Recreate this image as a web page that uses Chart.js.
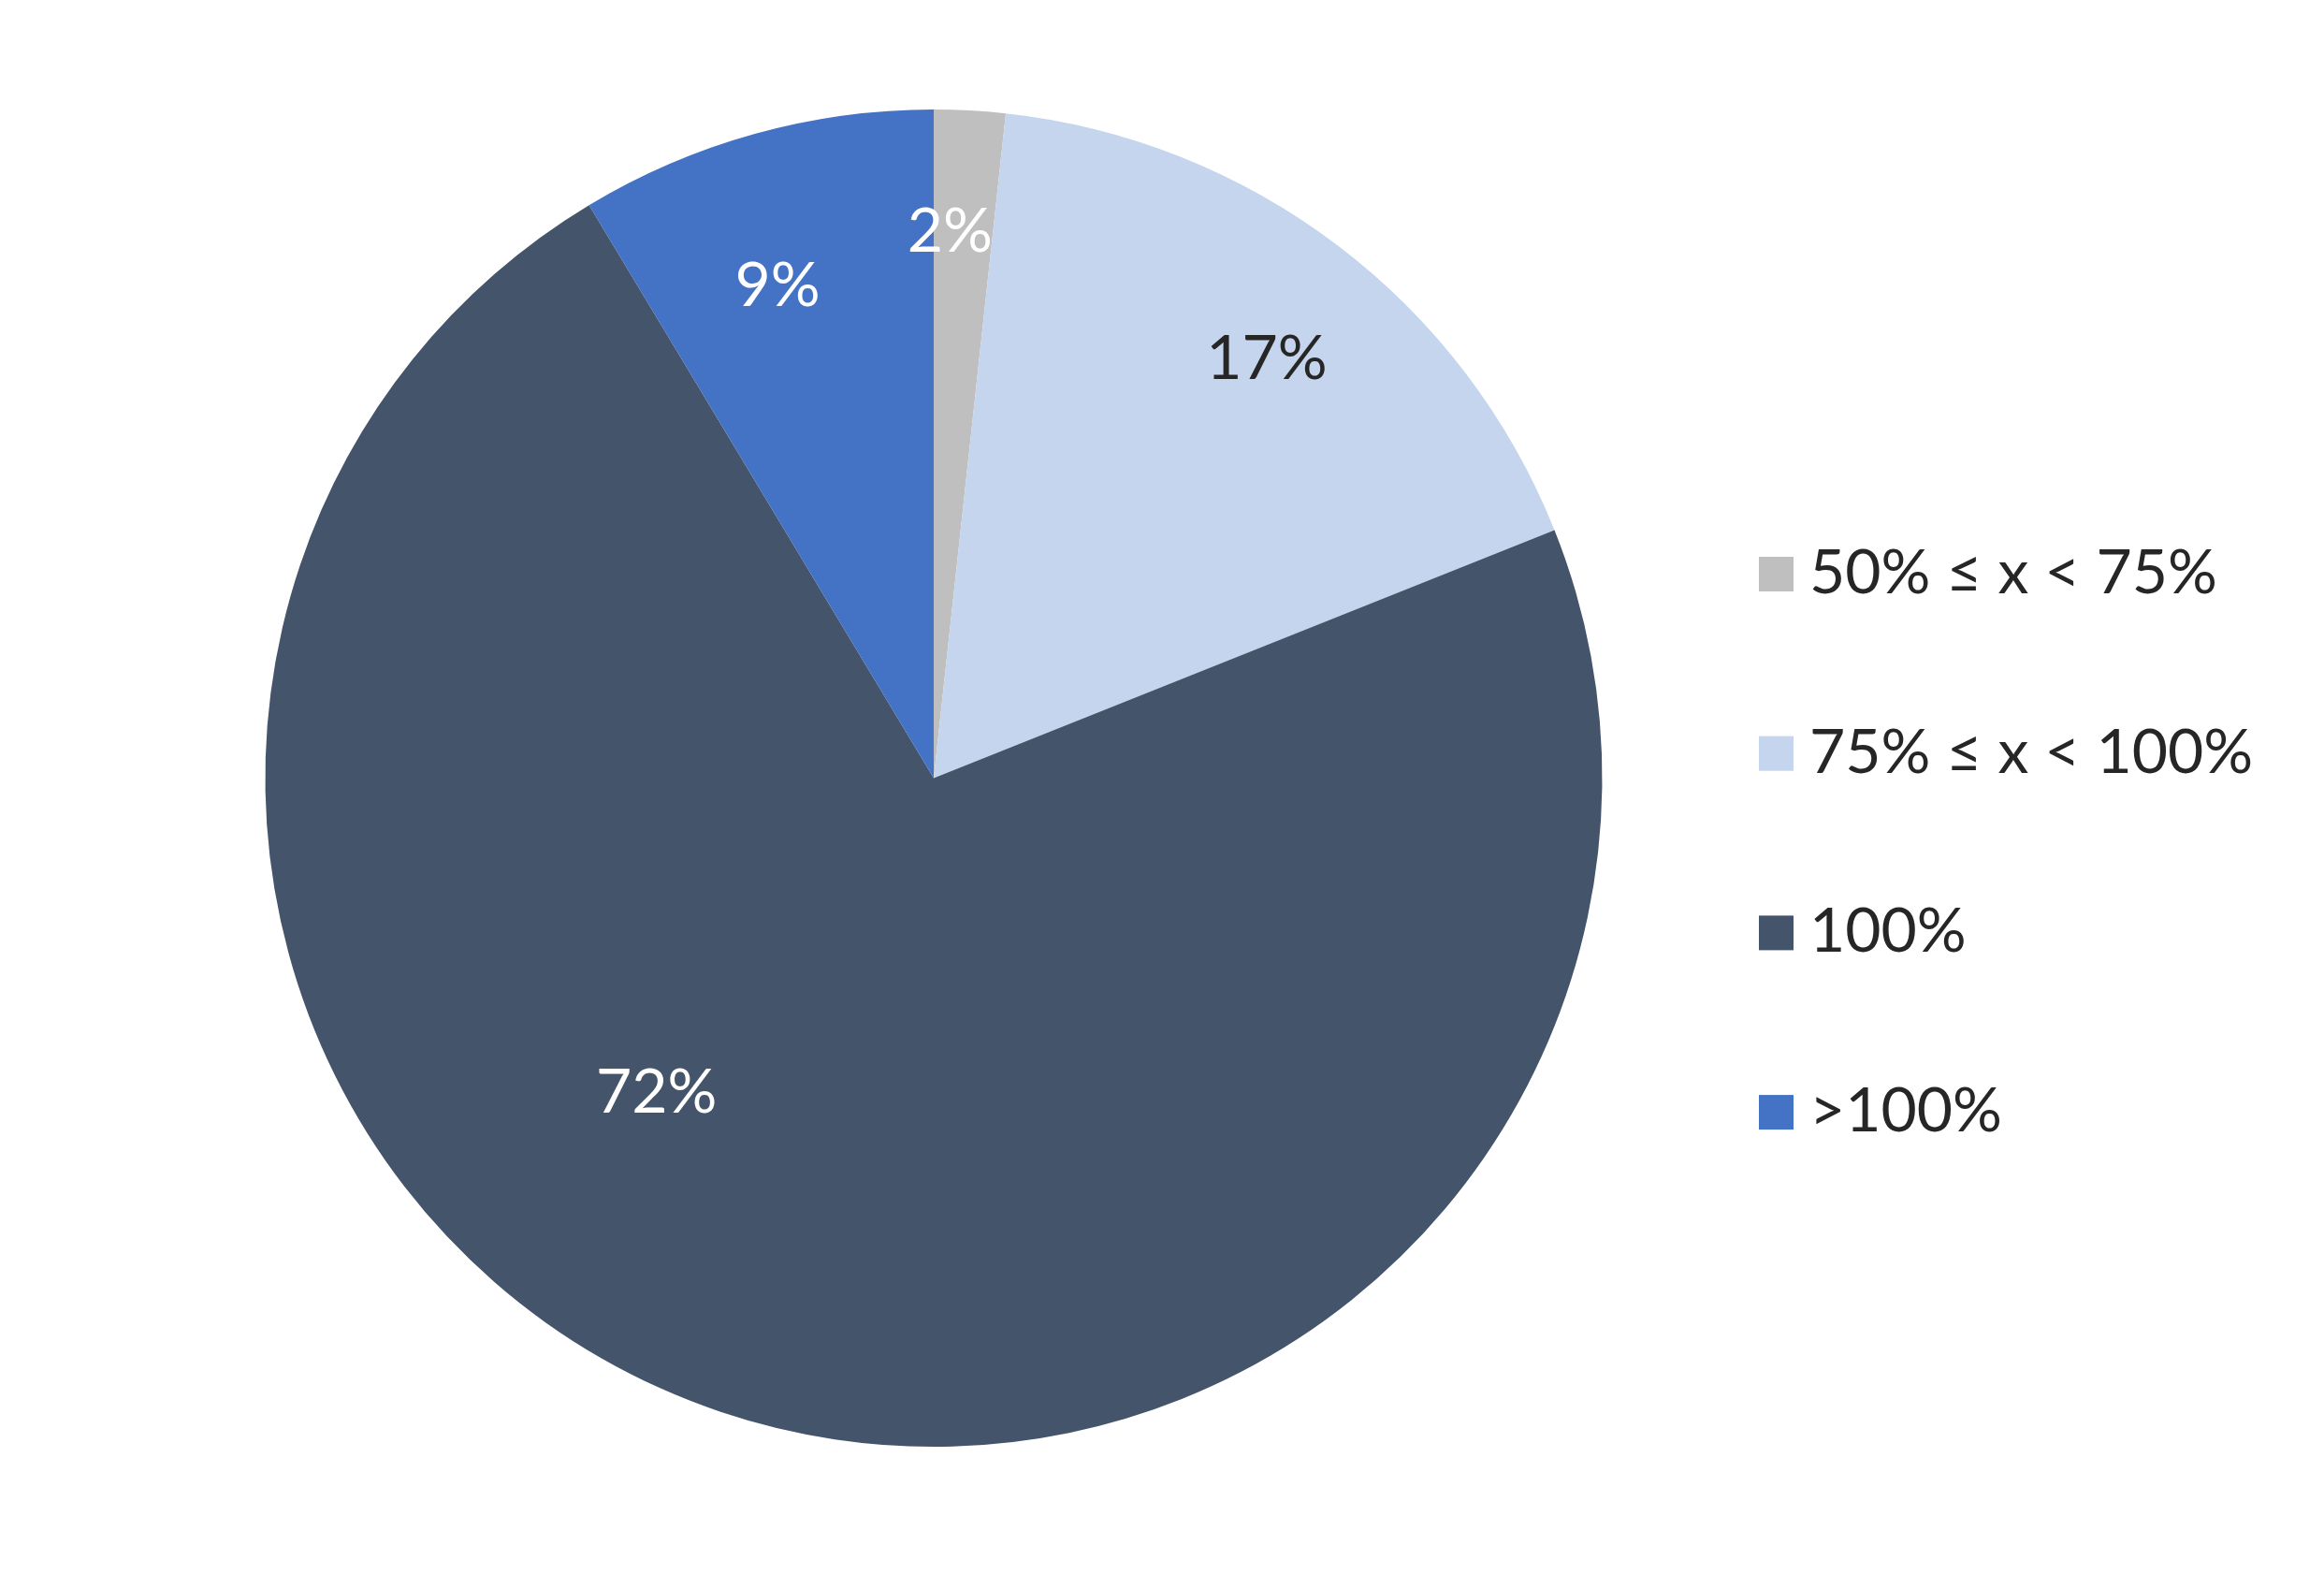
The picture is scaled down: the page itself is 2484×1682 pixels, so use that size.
<!DOCTYPE html>
<html>
<head>
<meta charset="utf-8">
<title>Pie</title>
<script src="https://cdn.jsdelivr.net/npm/chart.js@4.4.1/dist/chart.umd.min.js"></script>
<style>
  html, body { margin: 0; padding: 0; background: #fff; }
  #wrap { width: 2484px; height: 1682px; }
</style>
</head>
<body>
<div id="wrap"><canvas id="pie"></canvas></div>
<script>
// categories and shares (percent of total)
const categories = ['50% \u2264 x < 75%', '75% \u2264 x < 100%', '100%', '>100%'];
const shares = [1.72, 17.23, 72.43, 8.62];
const sliceColors = ['#BFBFBF', '#C4D5ED', '#44546A', '#4472C4'];
const labelColors = ['#FFFFFF', '#262626', '#FFFFFF', '#FFFFFF'];
// label placement: fraction of radius, angle shift from slice middle (deg)
const labelRadius = [0.817, 0.80, 0.627, 0.772];
const labelShift = [-1.4, 1.3, 22.8, -2.1];

const FONT = 'Lato, "Noto Sans", sans-serif';
const FONT_SIZE = 66;

const sliceLabels = {
    id: 'sliceLabels',
    afterDatasetsDraw(chart) {
        const ctx = chart.ctx;
        const meta = chart.getDatasetMeta(0);
        const values = chart.data.datasets[0].data;
        const total = values.reduce((a, b) => a + b, 0);
        ctx.save();
        ctx.font = FONT_SIZE + 'px ' + FONT;
        ctx.textAlign = 'center';
        ctx.textBaseline = 'middle';
        meta.data.forEach((arc, i) => {
            const p = arc.getProps(['x', 'y', 'startAngle', 'endAngle', 'outerRadius'], true);
            const mid = (p.startAngle + p.endAngle) / 2 + labelShift[i] * Math.PI / 180;
            const r = p.outerRadius * labelRadius[i];
            ctx.fillStyle = labelColors[i];
            ctx.fillText(Math.round(values[i] / total * 100) + '%',
                p.x + Math.cos(mid) * r, p.y + Math.sin(mid) * r);
        });
        ctx.restore();
    }
};

// legend on the right, drawn by hand to match spacing
const sideLegend = {
    id: 'sideLegend',
    afterDraw(chart) {
        const ctx = chart.ctx;
        const colors = chart.data.datasets[0].backgroundColor;
        const left = 1880, box = 37, firstBase = 634, step = 191.7;
        ctx.save();
        ctx.font = FONT_SIZE + 'px ' + FONT;
        ctx.textAlign = 'left';
        ctx.textBaseline = 'alphabetic';
        chart.data.labels.forEach((label, i) => {
            const base = firstBase + i * step;
            ctx.fillStyle = colors[i];
            ctx.fillRect(left, base - 39, box, box);
            ctx.fillStyle = '#262626';
            ctx.fillText(label, left + box + 17, base);
        });
        ctx.restore();
    }
};

const ctx = document.getElementById('pie').getContext('2d');
new Chart(ctx, {
    type: 'pie',
    data: {
        labels: categories,
        datasets: [{
            data: shares,
            backgroundColor: sliceColors,
            borderWidth: 0
        }]
    },
    options: {
        responsive: true,
        maintainAspectRatio: false,
        animation: false,
        layout: { padding: { top: 117, bottom: 136, left: 0, right: 488 } },
        plugins: {
            legend: { display: false },
            tooltip: { enabled: false }
        }
    },
    plugins: [sliceLabels, sideLegend]
});
</script>
</body>
</html>
